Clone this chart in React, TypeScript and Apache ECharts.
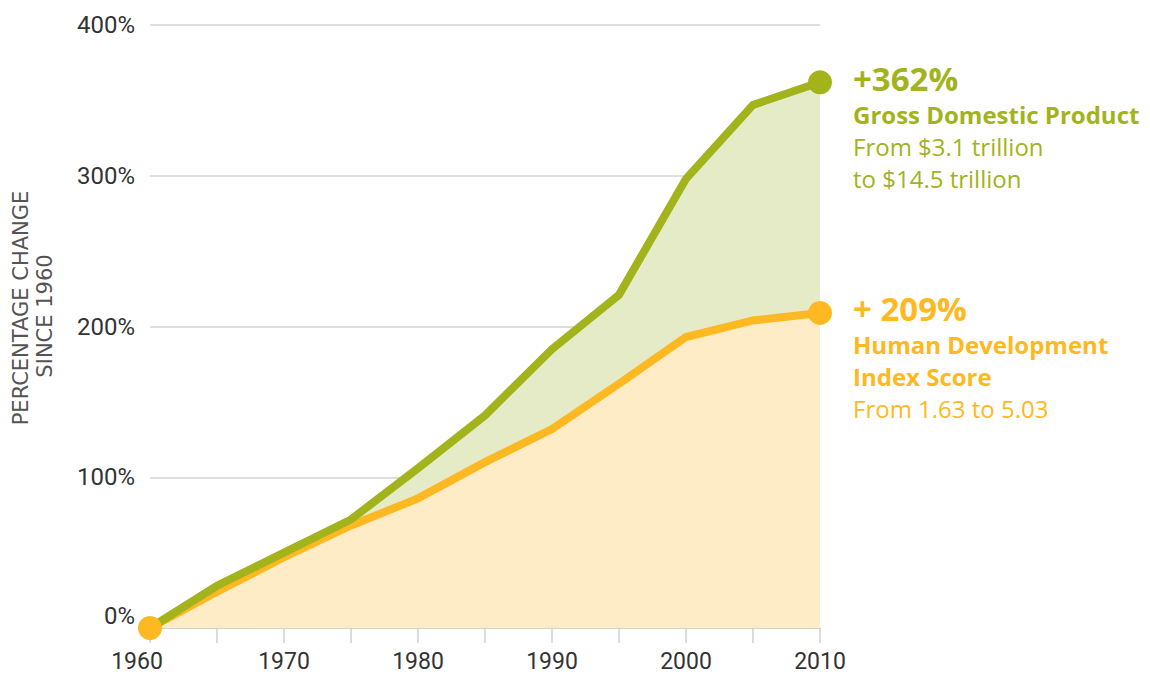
import React, { useEffect, useRef } from "react";
import * as echarts from "echarts";

// ---- data ----
const years = [1960, 1965, 1970, 1975, 1980, 1985, 1990, 1995, 2000, 2005, 2010];
const gdpChange = [0, 28, 50, 72, 106, 141, 185, 221, 298, 347, 362];
const hdiChange = [0, 24, 47, 68, 86, 110, 132, 162, 193, 204, 209];
const yTickValues = [0, 100, 200, 300, 400];
const axisTitleLines = ["PERCENTAGE CHANGE", "SINCE 1960"];
const gdpNoteLines = ["+362%", "Gross Domestic Product", "From $3.1 trillion", "to $14.5 trillion"];
const hdiNoteLines = ["+ 209%", "Human Development", "Index Score", "From 1.63 to 5.03"];

const GREEN = "#A3B31B";
const ORANGE = "#FDB822";
const GREEN_AREA = "#E5EBC7";
const ORANGE_AREA = "#FEECC7";
const FONT = "Roboto, 'Noto Sans', sans-serif";
const NOTE_FONT = "'Open Sans', Roboto, sans-serif";

export default function App() {
  const ref = useRef<HTMLDivElement>(null);

  useEffect(() => {
    if (!ref.current) return;
    const chart = echarts.init(ref.current, undefined, { renderer: "svg" });

    const gdpData = years.map((y, i) => [y, gdpChange[i]]);
    const hdiData = years.map((y, i) => [y, hdiChange[i]]);
    const last = years.length - 1;

    const noteText = (x: number, ys: number[], lines: string[], color: string, boldCount: number, sizes: number[]) =>
      lines.map((t, i) => ({
        type: "text",
        x,
        y: ys[i],
        silent: true,
        style: {
          text: t,
          fill: color,
          fontFamily: NOTE_FONT,
          fontWeight: i < boldCount ? "bold" : "normal",
          fontSize: sizes[i],
          align: "left",
          verticalAlign: "middle",
        },
      }));

    const option: any = {
      animation: false,
      grid: { left: 150, right: 330, top: 25, bottom: 49, containLabel: false },
      xAxis: {
        type: "value",
        min: 1960,
        max: 2010,
        interval: 5,
        axisLine: { show: true, lineStyle: { color: "#d0d0d0", width: 1.5 } },
        axisTick: { show: true, length: 15, lineStyle: { color: "#d0d0d0", width: 1.5 } },
        splitLine: { show: false },
        axisLabel: {
          margin: 22,
          fontSize: 23,
          fontFamily: FONT,
          color: "#333",
          formatter: (v: number) => (v % 10 === 0 ? (v === years[0] ? "{first|" + v + "}" : String(v)) : ""),
          rich: {
            first: { fontSize: 23, fontFamily: FONT, color: "#333", padding: [0, 26, 0, 0] },
          },
        },
      },
      yAxis: {
        type: "value",
        min: yTickValues[0],
        max: yTickValues[yTickValues.length - 1],
        interval: 100,
        axisLine: { show: false },
        axisTick: { show: false },
        splitLine: { show: true, lineStyle: { color: "#d3d3d3", width: 1.5 } },
        axisLabel: {
          margin: 15,
          fontSize: 24,
          fontFamily: FONT,
          color: "#333",
          formatter: "{value}%",
          verticalAlignMinLabel: "bottom",
        },
      },
      series: [
        {
          type: "line",
          data: gdpData,
          symbol: "none",
          lineStyle: { width: 0 },
          areaStyle: { color: GREEN_AREA, opacity: 1 },
          z: 1,
          silent: true,
        },
        {
          type: "line",
          data: hdiData,
          symbol: "none",
          lineStyle: { width: 0 },
          areaStyle: { color: ORANGE_AREA, opacity: 1 },
          z: 2,
          silent: true,
        },
        {
          type: "line",
          data: hdiData,
          symbol: "none",
          clip: false,
          lineStyle: { width: 8, color: ORANGE, join: "miter" },
          z: 3,
          silent: true,
        },
        {
          type: "line",
          data: gdpData,
          symbol: "none",
          clip: false,
          lineStyle: { width: 8, color: GREEN, join: "miter" },
          z: 4,
          silent: true,
        },
        {
          type: "scatter",
          data: [gdpData[last]],
          symbol: "circle",
          symbolSize: 24,
          clip: false,
          itemStyle: { color: GREEN, opacity: 1 },
          z: 5,
          silent: true,
        },
        {
          type: "scatter",
          data: [hdiData[0], hdiData[last]],
          symbol: "circle",
          symbolSize: 24,
          clip: false,
          itemStyle: { color: ORANGE, opacity: 1 },
          z: 6,
          silent: true,
        },
      ],
      graphic: [
        {
          type: "text",
          x: 21,
          y: 308,
          rotation: Math.PI / 2,
          silent: true,
          style: {
            text: axisTitleLines[0],
            fill: "#555",
            fontFamily: "'DejaVu Sans', sans-serif",
            fontSize: 21,
            align: "center",
            verticalAlign: "middle",
          },
        },
        {
          type: "text",
          x: 45,
          y: 316,
          rotation: Math.PI / 2,
          silent: true,
          style: {
            text: axisTitleLines[1],
            fill: "#555",
            fontFamily: "'DejaVu Sans', sans-serif",
            fontSize: 21,
            align: "center",
            verticalAlign: "middle",
          },
        },
        ...noteText(853, [78, 114, 146, 178], gdpNoteLines, GREEN, 2, [33, 24, 24, 24]),
        ...noteText(853, [308, 344, 376, 408], hdiNoteLines, ORANGE, 3, [33, 24, 24, 24]),
      ],
    };

    chart.setOption(option);
    return () => chart.dispose();
  }, []);

  return (
    <div
      ref={ref}
      style={{ position: "fixed", left: 0, top: 0, width: 1150, height: 677, background: "#fff" }}
    />
  );
}
